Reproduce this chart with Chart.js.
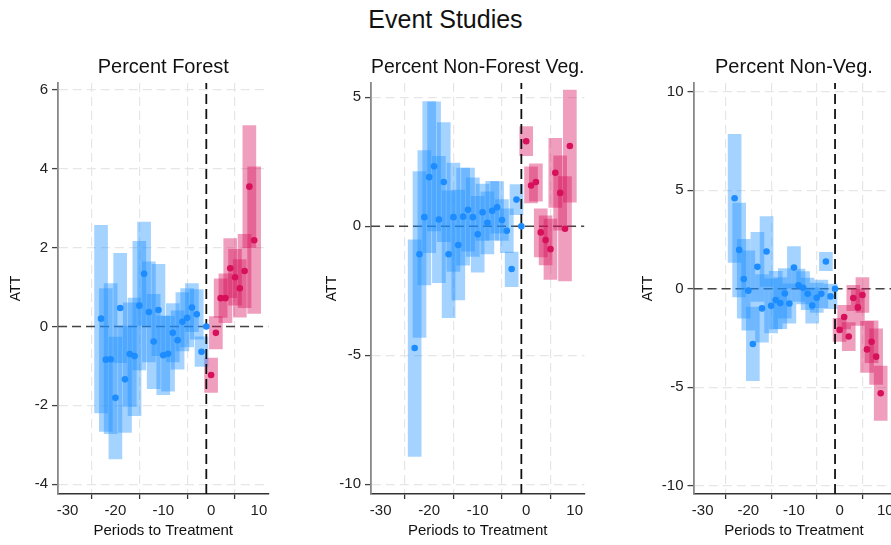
<!DOCTYPE html>
<html>
<head>
<meta charset="utf-8">
<script src="https://cdn.jsdelivr.net/npm/chart.js@4.4.0/dist/chart.umd.min.js"></script>
<style>
  html, body { margin: 0; padding: 0; background: #fff; overflow: hidden; width: 891px; height: 545px; }
  #title { position: absolute; left: 0; top: 5px; width: 891px; text-align: center; line-height: 30px;
           font: 25px "Liberation Sans", Arial, Helvetica, sans-serif; color: #111; }
  .panel { position: absolute; top: 0; height: 545px; width: 300px; }
</style>
</head>
<body>
<div id="title">Event Studies</div>
<div class="panel" style="left:0px"><canvas id="c1"></canvas></div>
<div class="panel" style="left:316px"><canvas id="c2"></canvas></div>
<div class="panel" style="left:632px"><canvas id="c3"></canvas></div>
<script>
        // periods relative to treatment
        const prePeriods = [-23, -22, -21, -20, -19, -18, -17, -16, -15, -14, -13, -12,
                            -11, -10, -9, -8, -7, -6, -5, -4, -3, -2, -1];
        const postPeriods = [0, 1, 2, 3, 4, 5, 6, 7, 8, 9];
        const xTicks = [-30, -20, -10, 0, 10];

        // Percent Forest
        const forestPre = [0.20, -0.84, -0.83, -1.81, 0.47, -1.34, -0.70, -0.75, 0.53, 1.34, 0.37, -0.38,
                           0.42, -0.73, -0.69, -0.16, -0.35, 0.12, 0.22, 0.48, 0.31, -0.64, 0];
        const forestPreLo = [-2.19, -2.66, -2.72, -3.36, -0.92, -2.69, -2.03, -2.26, -1.10, 0.03, -0.90, -1.58,
                             -0.74, -1.73, -1.64, -0.90, -1.08, -0.62, -0.52, -0.13, -0.32, -1.01, null];
        const forestPreHi = [2.57, 0.96, 1.09, -0.27, 1.86, 0.01, 0.60, 0.72, 2.16, 2.65, 1.64, 0.82,
                             1.58, 0.27, 0.26, 0.58, 0.40, 0.86, 0.96, 1.09, 0.94, -0.26, null];
        const forestPost = [-1.23, -0.16, 0.72, 0.72, 1.48, 1.25, 0.97, 1.41, 3.55, 2.19];
        const forestPostLo = [-1.67, -0.57, 0.23, 0.10, 0.73, 0.54, 0.24, 0.48, 2.00, 0.33];
        const forestPostHi = [-0.80, 0.25, 1.21, 1.34, 2.23, 1.96, 1.70, 2.34, 5.10, 4.05];
        const forestTicks = [6, 4, 2, 0, -2, -4];

        // Percent Non-Forest Veg.
        const nonForestPre = [-4.72, -1.09, 0.35, 1.90, 2.32, 0.26, 1.71, -1.09, 0.35, -0.73, 0.37, 0.64,
                              0.35, -0.31, 0.54, 0.13, 0.60, 0.73, 0.24, -0.18, -1.66, 1.03, 0];
        const nonForestPreLo = [-8.92, -4.31, -2.28, -1.03, -0.18, -2.19, -0.60, -3.55, -1.75, -2.86, -1.51, -0.97,
                                -1.17, -1.78, -0.55, -1.07, -0.54, -0.27, -0.55, -1.03, -2.34, 0.45, null];
        const nonForestPreHi = [-0.53, 2.12, 2.93, 4.83, 4.82, 2.71, 4.02, 1.37, 2.45, 1.40, 2.25, 2.25,
                                1.87, 1.16, 1.63, 1.33, 1.74, 1.73, 1.03, 0.67, -1.00, 1.61, null];
        const nonForestPost = [3.29, 1.58, 1.71, -0.24, -0.54, -0.89, 2.07, 1.29, -0.10, 3.11];
        const nonForestPostLo = [2.73, 0.90, 0.97, -1.19, -1.50, -2.06, 0.73, -0.15, -2.12, 0.93];
        const nonForestPostHi = [3.86, 2.30, 2.42, 0.67, 0.40, 0.28, 3.41, 2.73, 1.92, 5.28];
        const nonForestTicks = [5, 0, -5, -10];

        // Percent Non-Veg.
        const nonVegPre = [4.59, 1.97, 0.49, -0.10, -2.81, 1.11, -1.00, 1.89, -0.87, -0.58, -0.73, -0.24,
                           -0.75, 1.07, 0.17, 0.05, -0.26, -0.85, -0.46, -0.26, 1.38, -0.39, 0];
        const nonVegPreLo = [1.33, -0.42, -1.50, -2.10, -4.67, -0.64, -2.72, 0.12, -2.24, -2.04, -2.03, -1.50,
                             -1.75, 0.00, -0.65, -0.77, -1.06, -1.75, -1.21, -0.96, 0.91, -1.02, null];
        const nonVegPreHi = [7.83, 4.34, 2.50, 1.92, -0.93, 2.86, 0.72, 3.66, 0.50, 0.88, 0.57, 1.02,
                             0.25, 2.14, 0.99, 0.87, 0.54, 0.05, 0.29, 0.44, 1.85, 0.24, null];
        const nonVegPost = [-2.09, -1.44, -2.43, -0.47, -0.95, -0.32, -3.08, -2.69, -3.45, -5.31];
        const nonVegPostLo = [-2.67, -2.04, -3.14, -1.11, -1.87, -1.20, -4.25, -3.75, -4.86, -6.69];
        const nonVegPostHi = [-1.51, -0.84, -1.72, 0.17, -0.03, 0.56, -1.65, -1.63, -2.04, -3.93];
        const nonVegTicks = [10, 5, 0, -5, -10];

        const xMin = -32, xMax = 12, refPeriod = -1;
        const FONT = '"Liberation Sans", Arial, Helvetica, sans-serif';
        const blueBar = 'rgba(30,144,255,0.4)', bluePt = 'rgb(28,140,255)';
        const pinkBar = 'rgba(214,16,90,0.4)', pinkPt = 'rgb(214,16,90)';

        function ciData(periods, lo, hi) {
            const out = [];
            periods.forEach(function (p, i) {
                if (lo[i] !== null) out.push({ x: p, y: [lo[i], hi[i]] });
            });
            return out;
        }

        function ptData(periods, est) {
            return periods.map(function (p, i) { return { x: p, y: est[i] }; });
        }

        function makePanel(id, title, pre, preLo, preHi, post, postLo, postHi, yTicks, yMin, yMax, yWidth, padRight) {
            const ctx = document.getElementById(id).getContext('2d');
            return new Chart(ctx, {
                type: 'bar',
                data: {
                    datasets: [
                        // vertical reference line sits above the bands, zero line below them
                        { type: 'line', data: [{ x: refPeriod, y: yMin }, { x: refPeriod, y: yMax }],
                          borderColor: '#111', borderWidth: 1.8, borderDash: [10, 5], pointRadius: 0, order: 2 },
                        { type: 'line', data: [{ x: xMin, y: 0 }, { x: xMax, y: 0 }],
                          borderColor: '#444', borderWidth: 1.6, borderDash: [9, 5], pointRadius: 0, order: 8 },
                        { type: 'bar', data: ciData(prePeriods, preLo, preHi), backgroundColor: blueBar,
                          barThickness: 13, grouped: false, order: 5 },
                        { type: 'bar', data: ciData(postPeriods, postLo, postHi), backgroundColor: pinkBar,
                          barThickness: 13, grouped: false, order: 5 },
                        { type: 'scatter', data: ptData(prePeriods, pre), backgroundColor: bluePt,
                          pointRadius: 3.3, borderWidth: 0, order: 0 },
                        { type: 'scatter', data: ptData(postPeriods, post), backgroundColor: pinkPt,
                          pointRadius: 3.3, borderWidth: 0, order: 0 }
                    ]
                },
                options: {
                    responsive: true,
                    maintainAspectRatio: false,
                    animation: false,
                    layout: { padding: { top: 55, left: 0, right: padRight, bottom: 0 } },
                    plugins: {
                        legend: { display: false },
                        tooltip: { enabled: false },
                        title: {
                            display: true, text: title, fullSize: false,
                            color: '#111', font: { family: FONT, size: 20, weight: 'normal' },
                            padding: { top: 0, bottom: 4 }
                        }
                    },
                    scales: {
                        x: {
                            type: 'linear', min: xMin, max: xMax, offset: false,
                            afterBuildTicks: function (s) { s.ticks = xTicks.map(function (v) { return { value: v }; }); },
                            afterFit: function (s) { s.height = 51; },
                            ticks: { color: '#222', padding: 3, font: { family: FONT, size: 15 },
                                     callback: function (v) { return String(v); } },
                            grid: {
                                color: function (c) { return c.tick && c.tick.value === -30 ? 'rgba(0,0,0,0)' : '#e6e6e6'; },
                                lineWidth: 1.2, tickColor: '#333', tickWidth: 1.3, tickLength: 5
                            },
                            border: { color: '#333', width: 1.5, dash: [9, 5] },
                            title: { display: true, text: 'Periods to Treatment', color: '#111',
                                     font: { family: FONT, size: 15 }, padding: { top: 0, bottom: 5 } }
                        },
                        y: {
                            min: yMin, max: yMax,
                            afterBuildTicks: function (s) { s.ticks = yTicks.map(function (v) { return { value: v }; }); },
                            afterFit: function (s) { s.width = yWidth; },
                            ticks: { color: '#222', padding: 4, font: { family: FONT, size: 15 },
                                     callback: function (v) { return String(v); } },
                            grid: { color: '#e6e6e6', lineWidth: 1.2, tickColor: '#444', tickWidth: 1.3, tickLength: 6 },
                            border: { color: '#888', width: 1.8, dash: [9, 5] },
                            title: { display: true, text: 'ATT', color: '#111',
                                     font: { family: FONT, size: 14 }, padding: { top: 8, bottom: 0 } }
                        }
                    }
                }
            });
        }

        window.onload = function () {
            makePanel('c1', 'Percent Forest', forestPre, forestPreLo, forestPreHi,
                      forestPost, forestPostLo, forestPostHi, forestTicks, -4.25, 6.18, 58, 31.5);
            makePanel('c2', 'Percent Non-Forest Veg.', nonForestPre, nonForestPreLo, nonForestPreHi,
                      nonForestPost, nonForestPostLo, nonForestPostHi, nonForestTicks, -10.38, 5.55, 55, 31.6);
            makePanel('c3', 'Percent Non-Veg.', nonVegPre, nonVegPreLo, nonVegPreHi,
                      nonVegPost, nonVegPostLo, nonVegPostHi, nonVegTicks, -10.42, 10.44, 61.5, 37.6);
        };
</script>
</body>
</html>
